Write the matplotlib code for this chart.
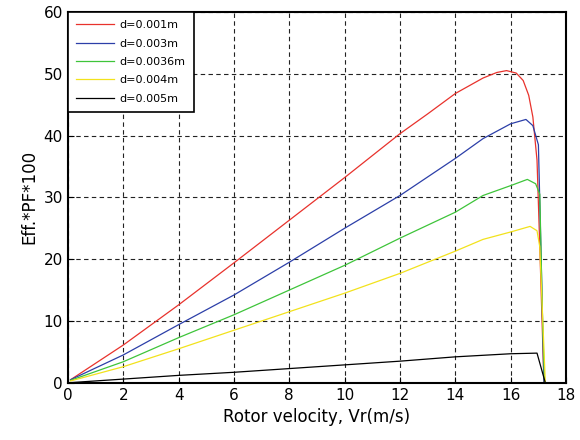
import numpy as np
import matplotlib.pyplot as plt

# values
x_red = [0.1, 2, 4, 6, 8, 10, 12, 13, 14, 15, 15.5, 15.85, 16.2, 16.45, 16.65, 16.8, 16.95, 17.05, 17.2]
y_red = [0.5, 6.1, 12.6, 19.4, 26.3, 33.2, 40.3, 43.5, 46.8, 49.3, 50.2, 50.5, 50.1, 48.9, 46.5, 43.0, 36.0, 22.0, 0.0]

x_blue = [0.1, 2, 4, 6, 8, 10, 12, 14, 15, 16, 16.55, 16.8, 17.0, 17.1, 17.2]
y_blue = [0.5, 4.5, 9.4, 14.2, 19.5, 25.0, 30.3, 36.3, 39.5, 41.9, 42.6, 41.6, 38.5, 20.0, 0.0]

x_green = [0.1, 2, 4, 6, 8, 10, 12, 14, 15, 16, 16.6, 16.9, 17.05, 17.15, 17.22]
y_green = [0.4, 3.4, 7.3, 11.0, 15.0, 19.0, 23.4, 27.6, 30.3, 31.9, 32.9, 32.2, 30.5, 10.0, 0.0]

x_yellow = [0.1, 2, 4, 6, 8, 10, 12, 14, 15, 16, 16.7, 16.95, 17.05, 17.25]
y_yellow = [0.3, 2.6, 5.5, 8.5, 11.5, 14.5, 17.7, 21.3, 23.2, 24.4, 25.3, 24.6, 22.0, 0.0]

x_black = [0.0, 2, 4, 6, 8, 10, 12, 14, 16, 16.95, 17.25]
y_black = [0.0, 0.6, 1.2, 1.7, 2.3, 2.9, 3.5, 4.2, 4.7, 4.8, 0.0]

labels = ['d=0.001m', 'd=0.003m', 'd=0.0036m', 'd=0.004m', 'd=0.005m']

fig = plt.figure(figsize=(5.8, 4.4), dpi=100)
ax = fig.add_axes([0.117, 0.130, 0.859, 0.843])

ax.plot(x_red, y_red, color='#e8322c', lw=0.9, label=labels[0])
ax.plot(x_blue, y_blue, color='#2c3fa8', lw=0.9, label=labels[1])
ax.plot(x_green, y_green, color='#3ec43a', lw=0.9, label=labels[2])
ax.plot(x_yellow, y_yellow, color='#f2e21c', lw=0.9, label=labels[3])
ax.plot(x_black, y_black, color='black', lw=0.9, label=labels[4])

ax.set_xlim(0, 18)
ax.set_ylim(0, 60)
ax.set_xticks(np.arange(0, 19, 2))
ax.set_yticks(np.arange(0, 61, 10))
ax.grid(True, color='#222222', linestyle=(0, (4, 3)), lw=0.8)
ax.tick_params(direction='in', labelsize=11, length=4)
for s in ax.spines.values():
    s.set_linewidth(1.5)

ax.set_xlabel('Rotor velocity, Vr(m/s)', fontsize=12)
ax.set_ylabel('Eff.*PF*100', fontsize=12)

leg = ax.legend(loc='upper left', fontsize=8, handlelength=3.4, handletextpad=0.5,
                fancybox=False, framealpha=1, edgecolor='black', borderaxespad=0,
                labelspacing=0.75, borderpad=0.75)
leg.get_frame().set_linewidth(1.2)

fig.savefig('out.png')
